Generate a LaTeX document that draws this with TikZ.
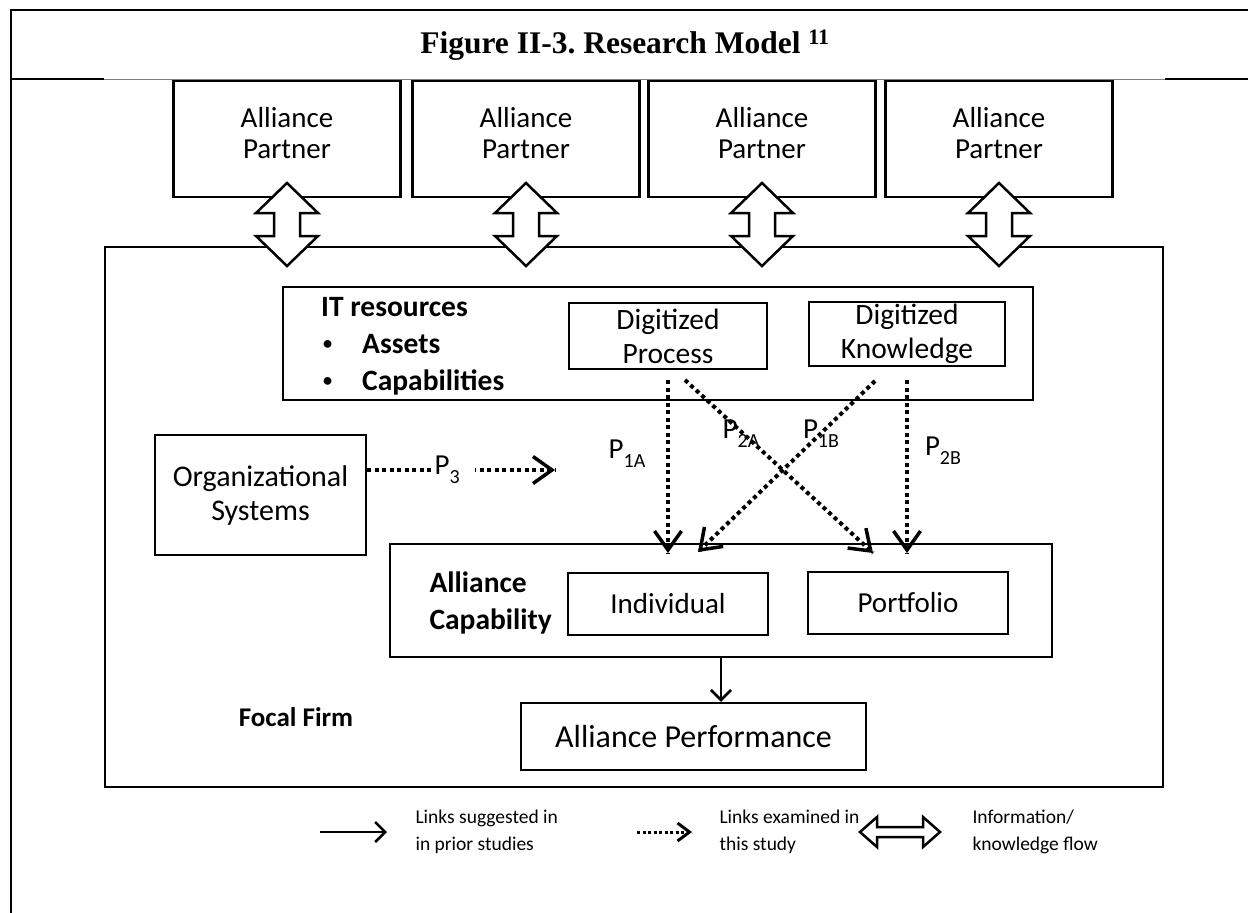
\documentclass[tikz,border=0pt]{standalone}
\usepackage{fontspec}
\setmainfont{Carlito}
\newfontfamily\titlefont{Liberation Serif}
\usetikzlibrary{arrows.meta,decorations.markings}

\newcommand{\psub}[1]{P\raisebox{-0.32em}{\fontsize{20}{20}\selectfont #1}}
\newcommand{\dotitem}{\makebox[41pt][l]{\hspace{2pt}\raisebox{0.12em}{\scalebox{0.62}{\textbullet}}}}

\begin{document}
\begin{tikzpicture}[x=1pt,y=-1pt,
  box/.style={draw,line width=2.5pt,inner sep=0pt,align=center,font=\fontsize{29}{36}\selectfont},
  link/.style={line width=4pt,dash pattern=on 4pt off 3.5pt,postaction={decorate},
    decoration={markings,mark=at position 1 with {\arrow[solid,line width=3.5pt]{Straight Barb[length=19pt,width=27pt]}}}},
  linkkey/.style={line width=3pt,dash pattern=on 3pt off 2.5pt,postaction={decorate},
    decoration={markings,mark=at position 1 with {\arrow[solid,line width=3pt]{Straight Barb[length=12pt,width=18pt]}}}},
  plain/.style={line width=2.5pt,-{Straight Barb[length=10pt,width=20pt,line width=2.5pt]}},
  flow/.style={draw,fill=white,line width=2.5pt,line join=miter},
  tag/.style={font=\fontsize{29}{29}\selectfont,inner sep=1pt},
  legend/.style={anchor=west,align=left,font=\fontsize{19.5}{27}\selectfont}]
\useasboundingbox (0,0) rectangle (1248,913);
% frame and title
\draw[line width=2.5pt] (11,913) -- (11,10) -- (1248,10);
\draw[line width=2.5pt] (11,79) -- (104,79);
\draw[line width=1pt,gray] (104,79) -- (1165,79);
\draw[line width=2.5pt] (1165,79) -- (1248,79);
\node[font=\titlefont\bfseries\fontsize{31.5}{31.5}\selectfont\frenchspacing] (title) at (625,45)
  {Figure II-3. Research Model \textsuperscript{11}};
% alliance partners
\node[box,font=\fontsize{29}{31}\selectfont,minimum width=227,minimum height=116,text depth=13pt] (p1) at (287,139) {Alliance\\Partner};
\node[box,font=\fontsize{29}{31}\selectfont,minimum width=227,minimum height=116,text depth=13pt] (p2) at (526,139) {Alliance\\Partner};
\node[box,font=\fontsize{29}{31}\selectfont,minimum width=227,minimum height=116,text depth=13pt] (p3) at (762,139) {Alliance\\Partner};
\node[box,font=\fontsize{29}{31}\selectfont,minimum width=227,minimum height=116,text depth=13pt] (p4) at (999,139) {Alliance\\Partner};
% focal firm
\node[box,minimum width=1058,minimum height=540] (firm) at (634,517) {};
\node[font=\bfseries\fontsize{27}{30}\selectfont] (firmlabel) at (296,717) {Focal Firm};
% information flows
\foreach \x in {287,526,762,999}
  \draw[flow] (\x,183) -- (\x+31,213) -- (\x+13,213) -- (\x+13,236) -- (\x+31,236) -- (\x,266)
    -- (\x-31,236) -- (\x-13,236) -- (\x-13,213) -- (\x-31,213) -- cycle;
% IT resources
\node[box,minimum width=750,minimum height=113] (it) at (658,343.5) {};
\node[anchor=north west,align=left,inner sep=0pt,font=\bfseries\fontsize{29.5}{37}\selectfont] (itlabel) at (321,297)
  {IT resources\\\dotitem Assets\\\dotitem Capabilities};
\node[box,font=\fontsize{29.5}{34}\selectfont,minimum width=198,minimum height=66] (proc) at (668,336) {Digitized\\Process};
\node[box,font=\fontsize{29.5}{34}\selectfont,minimum width=196,minimum height=64] (know) at (907,334) {Digitized\\Knowledge};
% organizational systems
\node[box,font=\fontsize{30}{34}\selectfont,minimum width=211,minimum height=120] (org) at (260.5,495) {Organizational\\Systems};
% alliance capability
\node[box,minimum width=662,minimum height=113] (cap) at (721,600.5) {};
\node[anchor=west,align=left,font=\bfseries\fontsize{29.5}{37}\selectfont] (caplabel) at (426,603) {Alliance\\Capability};
\node[box,minimum width=200,minimum height=62] (ind) at (668,604) {Individual};
\node[box,minimum width=200,minimum height=62] (port) at (908,603) {Portfolio};
% alliance performance
\node[box,minimum width=345,minimum height=67,font=\fontsize{32}{34}\selectfont] (perf) at (693.5,736.5) {Alliance Performance};
\draw[plain] (cap.south) -- (cap.south |- perf.north);
% links examined
\coordinate (a1) at (668,380);
\coordinate (a2) at (668,553);
\coordinate (b1) at (685,380);
\coordinate (b2) at (873,553);
\coordinate (c1) at (875,381);
\coordinate (c2) at (698,552);
\coordinate (d1) at (907,380);
\coordinate (d2) at (907,553);
\draw[link] (a1) -- (a2);
\draw[link] (b1) -- (b2);
\draw[link] (c1) -- (c2);
\draw[link] (d1) -- (d2);
\node[tag] (t1a) at (627,454) {\psub{1A}};
\node[tag] (t2a) at (741,434) {\psub{2A}};
\node[tag] (t1b) at (821,434) {\psub{1B}};
\node[tag] (t2b) at (943,451) {\psub{2B}};
\coordinate (e1) at (org.east |- 0,470);
\coordinate (e2) at (555,470);
\draw[link] (e1) -- node[tag,fill=white,inner xsep=1pt,pos=0.463] (t3) {\psub{3}\kern14pt\mbox{}} (e2);
% legend
\coordinate (l1) at (320,832);
\coordinate (l2) at (387,832);
\draw[plain] (l1) -- (l2);
\node[legend] (l1text) at (412,832) {Links suggested in\\in prior studies};
\coordinate (m1) at (637,832);
\coordinate (m2) at (692,832);
\draw[linkkey] (m1) -- (m2);
\node[legend] (m1text) at (716,832) {Links examined in\\this study};
\draw[flow] (860,832) -- (877,817) -- (877,827) -- (923,827) -- (923,817) -- (940,832)
  -- (923,847) -- (923,837) -- (877,837) -- (877,847) -- cycle;
\node[legend] (n1text) at (969,832) {Information/\\knowledge flow};
\end{tikzpicture}
\end{document}
